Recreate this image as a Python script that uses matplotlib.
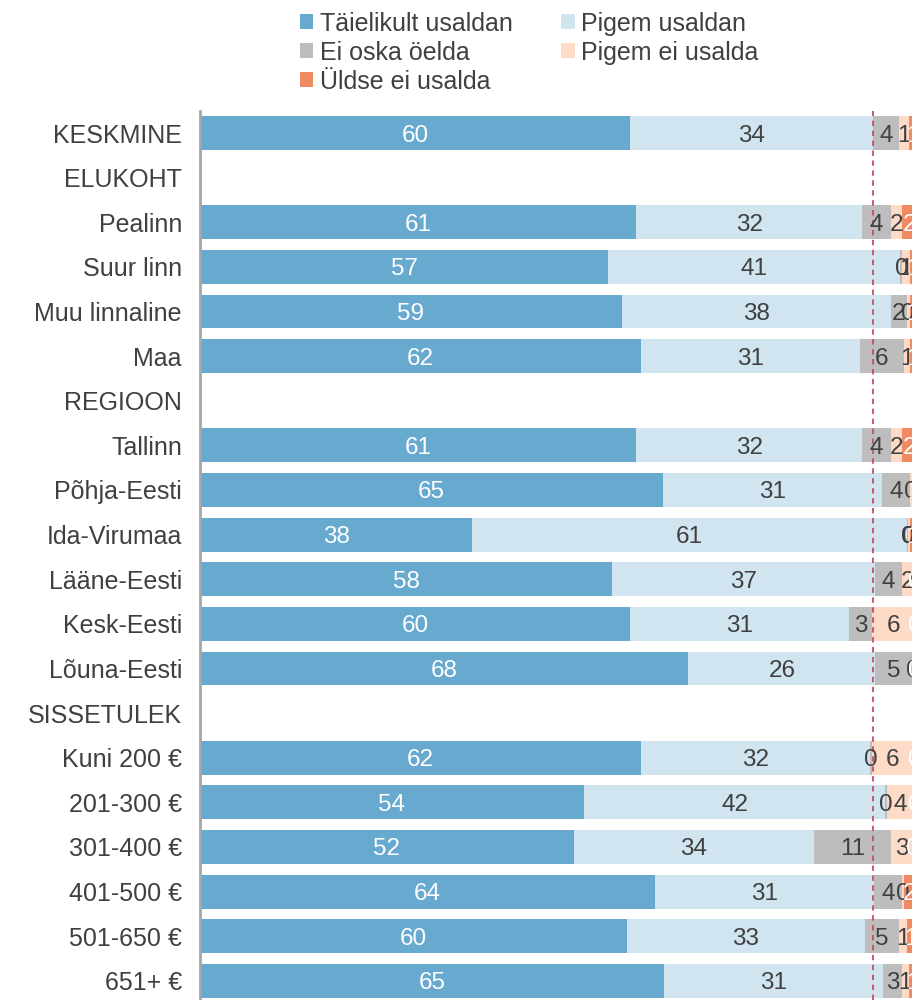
import matplotlib
matplotlib.use("Agg")
import matplotlib.pyplot as plt
from matplotlib.patches import Patch
import numpy as np

plt.rcParams['font.family'] = ['Liberation Sans', 'DejaVu Sans']

# rea nimed (pealkirjaread ilma tulpadeta)
rows = ["KESKMINE", "ELUKOHT", "Pealinn", "Suur linn", "Muu linnaline", "Maa",
        "REGIOON", "Tallinn", "Põhja-Eesti", "Ida-Virumaa", "Lääne-Eesti",
        "Kesk-Eesti", "Lõuna-Eesti", "SISSETULEK", "Kuni 200 €", "201-300 €",
        "301-400 €", "401-500 €", "501-650 €", "651+ €"]

n = np.nan
taielikult = [60.1, n, 60.9, 57.0, 58.9, 61.6, n, 60.9, 64.6, 38.0, 57.6, 60.1, 68.2, n,
              61.6, 53.6, 52.2, 63.6, 59.6, 64.8]
pigem = [33.9, n, 31.6, 40.8, 37.6, 30.6, n, 31.6, 30.6, 60.7, 36.7, 30.6, 26.1, n,
         32.0, 42.1, 33.6, 30.6, 33.3, 30.6]
ei_oska = [3.6, n, 4.0, 0.3, 2.2, 6.1, n, 4.0, 4.0, 0.2, 3.7, 3.2, 5.2, n,
           0.2, 0.3, 10.7, 3.8, 4.7, 2.6]
pigem_ei = [1.4, n, 1.6, 1.0, 0.4, 0.9, n, 1.6, 0.2, 0.2, 1.6, 5.8, 0.2, n,
            5.8, 3.6, 2.9, 0.3, 1.1, 1.0]
uldse_ei = [1.0, n, 1.9, 0.9, 0.9, 0.8, n, 1.9, 0.6, 0.9, 0.4, 0.3, 0.3, n,
            0.4, 0.4, 0.4, 1.7, 1.2, 1.0]

series = [
    ("Täielikult usaldan", taielikult, "#67a9cf", "white"),
    ("Pigem usaldan", pigem, "#d1e5f0", "#404040"),
    ("Ei oska öelda", ei_oska, "#bdbdbd", "#404040"),
    ("Pigem ei usalda", pigem_ei, "#fddbc7", "#404040"),
    ("Üldse ei usalda", uldse_ei, "#ef8a62", "white"),
]

fig = plt.figure(figsize=(9.18, 10), dpi=100)
ax = fig.add_axes([200 / 918, 0, (912 - 200) / 918, (1000 - 110.7) / 1000])

y = np.arange(len(rows))
left = np.zeros(len(rows))
for name, vals, color, tcolor in series:
    vals = np.array(vals, dtype=float)
    ax.barh(y, vals, left=left, height=0.76, color=color, label=name, linewidth=0)
    for i, v in enumerate(vals):
        if np.isnan(v):
            continue
        ax.text(left[i] + v / 2, i, f"{round(v):d}", ha="center", va="center_baseline",
                fontsize=17.5, color=tcolor, clip_on=True)
    left = left + np.nan_to_num(vals)

ax.axvline(94.0, color="#c44e66", linestyle=(0, (3, 2.5)), linewidth=1.3)

ax.set_xlim(0, 99.44)
ax.set_ylim(19.43, -0.5)
ax.set_yticks(y)
ax.set_yticklabels(rows, fontsize=18, color="#404040")
ax.tick_params(axis="y", length=0, pad=13)
ax.set_xticks([])
for s in ["top", "right", "bottom"]:
    ax.spines[s].set_visible(False)
ax.spines["left"].set_color("#a6a6a6")
ax.spines["left"].set_linewidth(2)

# legendi järjekord: veerg 1 kolm kirjet, veerg 2 kaks
order = [0, 2, 4, 1, 3]
handles = [Patch(facecolor=series[k][2], edgecolor="none") for k in order]
labels = [series[k][0] for k in order]
leg = fig.legend(handles, labels, loc="upper left", bbox_to_anchor=(277 / 918, 1.011),
                 ncol=2, frameon=False, fontsize=18, handlelength=0.55,
                 handleheight=0.55, handletextpad=0.25, labelspacing=0.2,
                 columnspacing=1.95)
for t in leg.get_texts():
    t.set_color("#404040")

fig.savefig("out.png", dpi=100)
